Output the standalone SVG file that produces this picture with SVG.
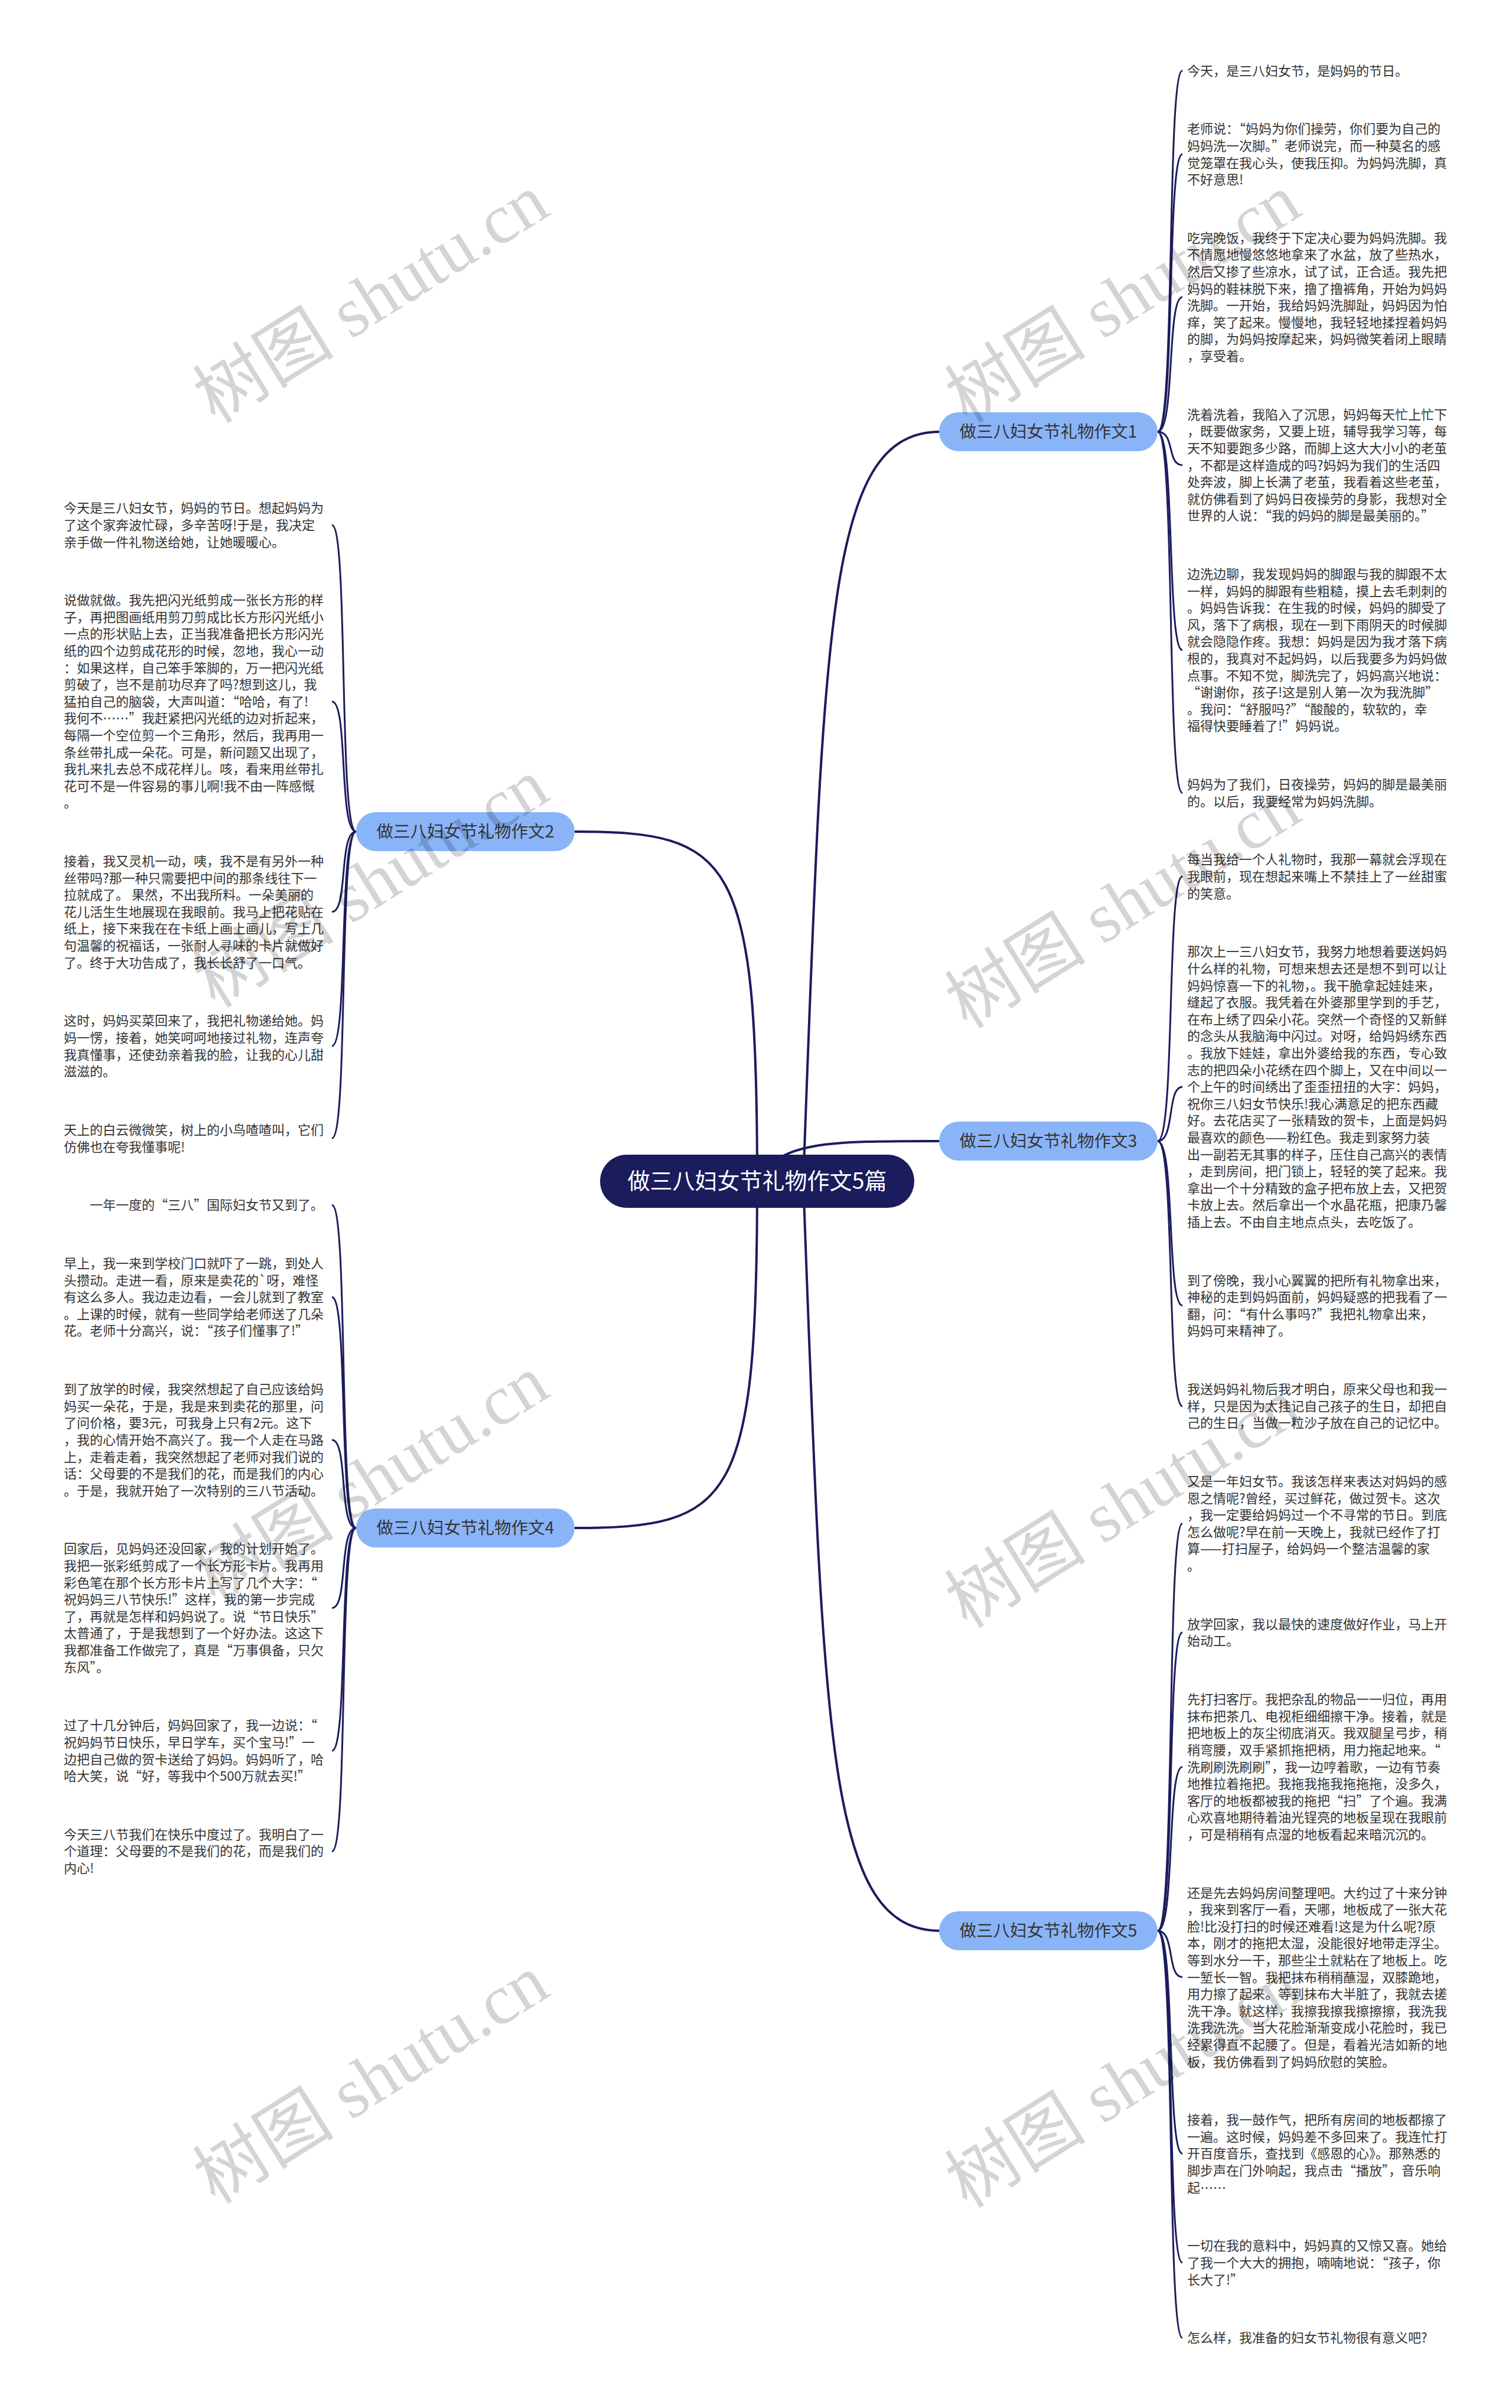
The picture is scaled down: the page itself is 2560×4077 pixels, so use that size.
<svg xmlns="http://www.w3.org/2000/svg" width="2560" height="4077" viewBox="0 0 2560 4077">
<style>
.t{font-family:"Noto Sans CJK SC","Noto Sans",sans-serif;font-size:22px;fill:#333}
.bl{font-family:"Noto Sans CJK SC","Noto Sans",sans-serif;font-size:28.5px;fill:#333;text-anchor:middle}
.rl{font-family:"Noto Sans CJK SC","Noto Sans",sans-serif;font-size:38px;fill:#fff;text-anchor:middle}
.bn{fill:#8ab4f8}
.rn{fill:#1b1c5c}
.m{fill:none;stroke:#1b1c5c;stroke-width:4}
.c{fill:none;stroke:#1b1c5c;stroke-width:3}
.wm{font-family:"Liberation Serif","Noto Sans CJK SC",serif;font-size:120px;fill:#000;fill-opacity:0.17;text-anchor:middle}
</style>
<rect width="2560" height="4077" fill="#fff"/>
<g id="connectors">
<path class="m" d="M1282,2000 C1282,1450 1240,1408 973,1408"/>
<path class="m" d="M1282,2000 C1282,2545 1240,2587 973,2587"/>
<path class="m" d="M1360,2000 C1395,1050 1400,731 1592,731"/>
<path class="m" d="M1282,2000 C1320,1932 1400,1932 1592,1932"/>
<path class="m" d="M1360,2000 C1395,2950 1400,3269 1592,3269"/>
<path class="c" d="M1960,731 C1990,731 1975,119.6 2002,119.6"/>
<path class="c" d="M1960,731 C1990,731 1975,261.2 2002,261.2"/>
<path class="c" d="M1960,731 C1990,731 1975,502.9 2002,502.9"/>
<path class="c" d="M1960,731 C1990,731 1975,787.5 2002,787.5"/>
<path class="c" d="M1960,731 C1990,731 1975,1100.7 2002,1100.7"/>
<path class="c" d="M1960,731 C1990,731 1975,1342.4 2002,1342.4"/>
<path class="c" d="M1960,1932 C1990,1932 1975,1484 2002,1484"/>
<path class="c" d="M1960,1932 C1990,1932 1975,1840.2 2002,1840.2"/>
<path class="c" d="M1960,1932 C1990,1932 1975,2210.5 2002,2210.5"/>
<path class="c" d="M1960,1932 C1990,1932 1975,2380.7 2002,2380.7"/>
<path class="c" d="M1960,3269 C1990,3269 1975,2579.5 2002,2579.5"/>
<path class="c" d="M1960,3269 C1990,3269 1975,2764 2002,2764"/>
<path class="c" d="M1960,3269 C1990,3269 1975,2991.5 2002,2991.5"/>
<path class="c" d="M1960,3269 C1990,3269 1975,3347.5 2002,3347.5"/>
<path class="c" d="M1960,3269 C1990,3269 1975,3646.4 2002,3646.4"/>
<path class="c" d="M1960,3269 C1990,3269 1975,3830.9 2002,3830.9"/>
<path class="c" d="M1960,3269 C1990,3269 1975,3958.3 2002,3958.3"/>
<path class="c" d="M603,1408 C573,1408 590,888.9 562,888.9"/>
<path class="c" d="M603,1408 C573,1408 590,1187.8 562,1187.8"/>
<path class="c" d="M603,1408 C573,1408 590,1543.8 562,1543.8"/>
<path class="c" d="M603,1408 C573,1408 590,1771.2 562,1771.2"/>
<path class="c" d="M603,1408 C573,1408 590,1927.2 562,1927.2"/>
<path class="c" d="M603,2587 C573,2587 590,2040.2 562,2040.2"/>
<path class="c" d="M603,2587 C573,2587 590,2196.2 562,2196.2"/>
<path class="c" d="M603,2587 C573,2587 590,2437.9 562,2437.9"/>
<path class="c" d="M603,2587 C573,2587 590,2722.5 562,2722.5"/>
<path class="c" d="M603,2587 C573,2587 590,2964.2 562,2964.2"/>
<path class="c" d="M603,2587 C573,2587 590,3134.4 562,3134.4"/>
</g>
<g id="root"><rect class="rn" x="1016" y="1955" width="532" height="90" rx="45"/><text class="rl" x="1282" y="2013">做三八妇女节礼物作文5篇</text></g>
<g id="b1"><rect class="bn" x="1590" y="698" width="370" height="66" rx="33"/><text class="bl" x="1775" y="741">做三八妇女节礼物作文1</text></g>
<g id="b2"><rect class="bn" x="603" y="1375" width="370" height="66" rx="33"/><text class="bl" x="788" y="1418">做三八妇女节礼物作文2</text></g>
<g id="b3"><rect class="bn" x="1590" y="1899" width="370" height="66" rx="33"/><text class="bl" x="1775" y="1942">做三八妇女节礼物作文3</text></g>
<g id="b4"><rect class="bn" x="603" y="2554" width="370" height="66" rx="33"/><text class="bl" x="788" y="2597">做三八妇女节礼物作文4</text></g>
<g id="b5"><rect class="bn" x="1590" y="3236" width="370" height="66" rx="33"/><text class="bl" x="1775" y="3279">做三八妇女节礼物作文5</text></g>

<g id="r1"><text class="t" x="2010" y="127.6">今天，是三八妇女节，是妈妈的节日。</text></g>
<g id="r2"><text class="t" x="2010" y="226.3"><tspan x="2010" dy="0">老师说：“妈妈为你们操劳，你们要为自己的</tspan><tspan x="2010" dy="28.6">妈妈洗一次脚。”老师说完，而一种莫名的感</tspan><tspan x="2010" dy="28.6">觉笼罩在我心头，使我压抑。为妈妈洗脚，真</tspan><tspan x="2010" dy="28.6">不好意思!</tspan></text></g>
<g id="r3"><text class="t" x="2010" y="410.8"><tspan x="2010" dy="0">吃完晚饭，我终于下定决心要为妈妈洗脚。我</tspan><tspan x="2010" dy="28.6">不情愿地慢悠悠地拿来了水盆，放了些热水，</tspan><tspan x="2010" dy="28.6">然后又掺了些凉水，试了试，正合适。我先把</tspan><tspan x="2010" dy="28.6">妈妈的鞋袜脱下来，撸了撸裤角，开始为妈妈</tspan><tspan x="2010" dy="28.6">洗脚。一开始，我给妈妈洗脚趾，妈妈因为怕</tspan><tspan x="2010" dy="28.6">痒，笑了起来。慢慢地，我轻轻地揉捏着妈妈</tspan><tspan x="2010" dy="28.6">的脚，为妈妈按摩起来，妈妈微笑着闭上眼睛</tspan><tspan x="2010" dy="28.6">，享受着。</tspan></text></g>
<g id="r4"><text class="t" x="2010" y="709.7"><tspan x="2010" dy="0">洗着洗着，我陷入了沉思，妈妈每天忙上忙下</tspan><tspan x="2010" dy="28.6">，既要做家务，又要上班，辅导我学习等，每</tspan><tspan x="2010" dy="28.6">天不知要跑多少路，而脚上这大大小小的老茧</tspan><tspan x="2010" dy="28.6">，不都是这样造成的吗?妈妈为我们的生活四</tspan><tspan x="2010" dy="28.6">处奔波，脚上长满了老茧，我看着这些老茧，</tspan><tspan x="2010" dy="28.6">就仿佛看到了妈妈日夜操劳的身影，我想对全</tspan><tspan x="2010" dy="28.6">世界的人说：“我的妈妈的脚是最美丽的。”</tspan></text></g>
<g id="r5"><text class="t" x="2010" y="980"><tspan x="2010" dy="0">边洗边聊，我发现妈妈的脚跟与我的脚跟不太</tspan><tspan x="2010" dy="28.6">一样，妈妈的脚跟有些粗糙，摸上去毛刺刺的</tspan><tspan x="2010" dy="28.6">。妈妈告诉我：在生我的时候，妈妈的脚受了</tspan><tspan x="2010" dy="28.6">风，落下了病根，现在一到下雨阴天的时候脚</tspan><tspan x="2010" dy="28.6">就会隐隐作疼。我想：妈妈是因为我才落下病</tspan><tspan x="2010" dy="28.6">根的，我真对不起妈妈，以后我要多为妈妈做</tspan><tspan x="2010" dy="28.6">点事。不知不觉，脚洗完了，妈妈高兴地说：</tspan><tspan x="2010" dy="28.6">“谢谢你，孩子!这是别人第一次为我洗脚”</tspan><tspan x="2010" dy="28.6">。我问：“舒服吗?”“酸酸的，软软的，幸</tspan><tspan x="2010" dy="28.6">福得快要睡着了!”妈妈说。</tspan></text></g>
<g id="r6"><text class="t" x="2010" y="1336.1"><tspan x="2010" dy="0">妈妈为了我们，日夜操劳，妈妈的脚是最美丽</tspan><tspan x="2010" dy="28.6">的。以后，我要经常为妈妈洗脚。</tspan></text></g>
<g id="r7"><text class="t" x="2010" y="1463.4"><tspan x="2010" dy="0">每当我给一个人礼物时，我那一幕就会浮现在</tspan><tspan x="2010" dy="28.6">我眼前，现在想起来嘴上不禁挂上了一丝甜蜜</tspan><tspan x="2010" dy="28.6">的笑意。</tspan></text></g>
<g id="r8"><text class="t" x="2010" y="1619.4"><tspan x="2010" dy="0">那次上一三八妇女节，我努力地想着要送妈妈</tspan><tspan x="2010" dy="28.6">什么样的礼物，可想来想去还是想不到可以让</tspan><tspan x="2010" dy="28.6">妈妈惊喜一下的礼物，。我干脆拿起娃娃来，</tspan><tspan x="2010" dy="28.6">缝起了衣服。我凭着在外婆那里学到的手艺，</tspan><tspan x="2010" dy="28.6">在布上绣了四朵小花。突然一个奇怪的又新鲜</tspan><tspan x="2010" dy="28.6">的念头从我脑海中闪过。对呀，给妈妈绣东西</tspan><tspan x="2010" dy="28.6">。我放下娃娃，拿出外婆给我的东西，专心致</tspan><tspan x="2010" dy="28.6">志的把四朵小花绣在四个脚上，又在中间以一</tspan><tspan x="2010" dy="28.6">个上午的时间绣出了歪歪扭扭的大字：妈妈，</tspan><tspan x="2010" dy="28.6">祝你三八妇女节快乐!我心满意足的把东西藏</tspan><tspan x="2010" dy="28.6">好。去花店买了一张精致的贺卡，上面是妈妈</tspan><tspan x="2010" dy="28.6">最喜欢的颜色——粉红色。我走到家努力装</tspan><tspan x="2010" dy="28.6">出一副若无其事的样子，压住自己高兴的表情</tspan><tspan x="2010" dy="28.6">，走到房间，把门锁上，轻轻的笑了起来。我</tspan><tspan x="2010" dy="28.6">拿出一个十分精致的盒子把布放上去，又把贺</tspan><tspan x="2010" dy="28.6">卡放上去。然后拿出一个水晶花瓶，把康乃馨</tspan><tspan x="2010" dy="28.6">插上去。不由自主地点点头，去吃饭了。</tspan></text></g>
<g id="r9"><text class="t" x="2010" y="2175.6"><tspan x="2010" dy="0">到了傍晚，我小心翼翼的把所有礼物拿出来，</tspan><tspan x="2010" dy="28.6">神秘的走到妈妈面前，妈妈疑惑的把我看了一</tspan><tspan x="2010" dy="28.6">翻，问：“有什么事吗?”我把礼物拿出来，</tspan><tspan x="2010" dy="28.6">妈妈可来精神了。</tspan></text></g>
<g id="r10"><text class="t" x="2010" y="2360.1"><tspan x="2010" dy="0">我送妈妈礼物后我才明白，原来父母也和我一</tspan><tspan x="2010" dy="28.6">样，只是因为太挂记自己孩子的生日，却把自</tspan><tspan x="2010" dy="28.6">己的生日，当做一粒沙子放在自己的记忆中。</tspan></text></g>
<g id="r11"><text class="t" x="2010" y="2516"><tspan x="2010" dy="0">又是一年妇女节。我该怎样来表达对妈妈的感</tspan><tspan x="2010" dy="28.6">恩之情呢?曾经，买过鲜花，做过贺卡。这次</tspan><tspan x="2010" dy="28.6">，我一定要给妈妈过一个不寻常的节日。到底</tspan><tspan x="2010" dy="28.6">怎么做呢?早在前一天晚上，我就已经作了打</tspan><tspan x="2010" dy="28.6">算——打扫屋子，给妈妈一个整洁温馨的家</tspan><tspan x="2010" dy="28.6">。</tspan></text></g>
<g id="r12"><text class="t" x="2010" y="2757.7"><tspan x="2010" dy="0">放学回家，我以最快的速度做好作业，马上开</tspan><tspan x="2010" dy="28.6">始动工。</tspan></text></g>
<g id="r13"><text class="t" x="2010" y="2885.1"><tspan x="2010" dy="0">先打扫客厅。我把杂乱的物品一一归位，再用</tspan><tspan x="2010" dy="28.6">抹布把茶几、电视柜细细擦干净。接着，就是</tspan><tspan x="2010" dy="28.6">把地板上的灰尘彻底消灭。我双腿呈弓步，稍</tspan><tspan x="2010" dy="28.6">稍弯腰，双手紧抓拖把柄，用力拖起地来。“</tspan><tspan x="2010" dy="28.6">洗刷刷洗刷刷”，我一边哼着歌，一边有节奏</tspan><tspan x="2010" dy="28.6">地推拉着拖把。我拖我拖我拖拖拖，没多久，</tspan><tspan x="2010" dy="28.6">客厅的地板都被我的拖把“扫”了个遍。我满</tspan><tspan x="2010" dy="28.6">心欢喜地期待着油光锃亮的地板呈现在我眼前</tspan><tspan x="2010" dy="28.6">，可是稍稍有点湿的地板看起来暗沉沉的。</tspan></text></g>
<g id="r14"><text class="t" x="2010" y="3212.5"><tspan x="2010" dy="0">还是先去妈妈房间整理吧。大约过了十来分钟</tspan><tspan x="2010" dy="28.6">，我来到客厅一看，天哪，地板成了一张大花</tspan><tspan x="2010" dy="28.6">脸!比没打扫的时候还难看!这是为什么呢?原</tspan><tspan x="2010" dy="28.6">本，刚才的拖把太湿，没能很好地带走浮尘。</tspan><tspan x="2010" dy="28.6">等到水分一干，那些尘土就粘在了地板上。吃</tspan><tspan x="2010" dy="28.6">一堑长一智。我把抹布稍稍蘸湿，双膝跪地，</tspan><tspan x="2010" dy="28.6">用力擦了起来。等到抹布大半脏了，我就去搓</tspan><tspan x="2010" dy="28.6">洗干净。就这样，我擦我擦我擦擦擦，我洗我</tspan><tspan x="2010" dy="28.6">洗我洗洗。当大花脸渐渐变成小花脸时，我已</tspan><tspan x="2010" dy="28.6">经累得直不起腰了。但是，看着光洁如新的地</tspan><tspan x="2010" dy="28.6">板，我仿佛看到了妈妈欣慰的笑脸。</tspan></text></g>
<g id="r15"><text class="t" x="2010" y="3597.2"><tspan x="2010" dy="0">接着，我一鼓作气，把所有房间的地板都擦了</tspan><tspan x="2010" dy="28.6">一遍。这时候，妈妈差不多回来了。我连忙打</tspan><tspan x="2010" dy="28.6">开百度音乐，查找到《感恩的心》。那熟悉的</tspan><tspan x="2010" dy="28.6">脚步声在门外响起，我点击“播放”，音乐响</tspan><tspan x="2010" dy="28.6">起……</tspan></text></g>
<g id="r16"><text class="t" x="2010" y="3810.3"><tspan x="2010" dy="0">一切在我的意料中，妈妈真的又惊又喜。她给</tspan><tspan x="2010" dy="28.6">了我一个大大的拥抱，喃喃地说：“孩子，你</tspan><tspan x="2010" dy="28.6">长大了!”</tspan></text></g>
<g id="r17"><text class="t" x="2010" y="3966.3">怎么样，我准备的妇女节礼物很有意义吧?</text></g>

<g id="l1"><text class="t" x="108" y="868.3"><tspan x="108" dy="0">今天是三八妇女节，妈妈的节日。想起妈妈为</tspan><tspan x="108" dy="28.6">了这个家奔波忙碌，多辛苦呀!于是，我决定</tspan><tspan x="108" dy="28.6">亲手做一件礼物送给她，让她暖暖心。</tspan></text></g>
<g id="l2"><text class="t" x="108" y="1024.2"><tspan x="108" dy="0">说做就做。我先把闪光纸剪成一张长方形的样</tspan><tspan x="108" dy="28.6">子，再把图画纸用剪刀剪成比长方形闪光纸小</tspan><tspan x="108" dy="28.6">一点的形状贴上去，正当我准备把长方形闪光</tspan><tspan x="108" dy="28.6">纸的四个边剪成花形的时候，忽地，我心一动</tspan><tspan x="108" dy="28.6">：如果这样，自己笨手笨脚的，万一把闪光纸</tspan><tspan x="108" dy="28.6">剪破了，岂不是前功尽弃了吗?想到这儿，我</tspan><tspan x="108" dy="28.6">猛拍自己的脑袋，大声叫道：“哈哈，有了!</tspan><tspan x="108" dy="28.6">我何不……”我赶紧把闪光纸的边对折起来，</tspan><tspan x="108" dy="28.6">每隔一个空位剪一个三角形，然后，我再用一</tspan><tspan x="108" dy="28.6">条丝带扎成一朵花。可是，新问题又出现了，</tspan><tspan x="108" dy="28.6">我扎来扎去总不成花样儿。咳，看来用丝带扎</tspan><tspan x="108" dy="28.6">花可不是一件容易的事儿啊!我不由一阵感慨</tspan><tspan x="108" dy="28.6">。</tspan></text></g>
<g id="l3"><text class="t" x="108" y="1466"><tspan x="108" dy="0">接着，我又灵机一动，咦，我不是有另外一种</tspan><tspan x="108" dy="28.6">丝带吗?那一种只需要把中间的那条线往下一</tspan><tspan x="108" dy="28.6">拉就成了。 果然，不出我所料。一朵美丽的</tspan><tspan x="108" dy="28.6">花儿活生生地展现在我眼前。我马上把花贴在</tspan><tspan x="108" dy="28.6">纸上，接下来我在在卡纸上画上画儿，写上几</tspan><tspan x="108" dy="28.6">句温馨的祝福话，一张耐人寻味的卡片就做好</tspan><tspan x="108" dy="28.6">了。终于大功告成了，我长长舒了一口气。</tspan></text></g>
<g id="l4"><text class="t" x="108" y="1736.3"><tspan x="108" dy="0">这时，妈妈买菜回来了，我把礼物递给她。妈</tspan><tspan x="108" dy="28.6">妈一愣，接着，她笑呵呵地接过礼物，连声夸</tspan><tspan x="108" dy="28.6">我真懂事，还使劲亲着我的脸，让我的心儿甜</tspan><tspan x="108" dy="28.6">滋滋的。</tspan></text></g>
<g id="l5"><text class="t" x="108" y="1920.9"><tspan x="108" dy="0">天上的白云微微笑，树上的小鸟喳喳叫，它们</tspan><tspan x="108" dy="28.6">仿佛也在夸我懂事呢!</tspan></text></g>
<g id="l6"><text class="t" x="152" y="2048.2">一年一度的“三八”国际妇女节又到了。</text></g>
<g id="l7"><text class="t" x="108" y="2147"><tspan x="108" dy="0">早上，我一来到学校门口就吓了一跳，到处人</tspan><tspan x="108" dy="28.6">头攒动。走进一看，原来是卖花的`呀，难怪</tspan><tspan x="108" dy="28.6">有这么多人。我边走边看，一会儿就到了教室</tspan><tspan x="108" dy="28.6">。上课的时候，就有一些同学给老师送了几朵</tspan><tspan x="108" dy="28.6">花。老师十分高兴，说：“孩子们懂事了!”</tspan></text></g>
<g id="l8"><text class="t" x="108" y="2360.1"><tspan x="108" dy="0">到了放学的时候，我突然想起了自己应该给妈</tspan><tspan x="108" dy="28.6">妈买一朵花，于是，我是来到卖花的那里，问</tspan><tspan x="108" dy="28.6">了问价格，要3元，可我身上只有2元。这下</tspan><tspan x="108" dy="28.6">，我的心情开始不高兴了。我一个人走在马路</tspan><tspan x="108" dy="28.6">上，走着走着，我突然想起了老师对我们说的</tspan><tspan x="108" dy="28.6">话：父母要的不是我们的花，而是我们的内心</tspan><tspan x="108" dy="28.6">。于是，我就开始了一次特别的三八节活动。</tspan></text></g>
<g id="l9"><text class="t" x="108" y="2630.4"><tspan x="108" dy="0">回家后，见妈妈还没回家，我的计划开始了。</tspan><tspan x="108" dy="28.6">我把一张彩纸剪成了一个长方形卡片。我再用</tspan><tspan x="108" dy="28.6">彩色笔在那个长方形卡片上写了几个大字：“</tspan><tspan x="108" dy="28.6">祝妈妈三八节快乐!”这样，我的第一步完成</tspan><tspan x="108" dy="28.6">了，再就是怎样和妈妈说了。说“节日快乐”</tspan><tspan x="108" dy="28.6">太普通了，于是我想到了一个好办法。这这下</tspan><tspan x="108" dy="28.6">我都准备工作做完了，真是“万事俱备，只欠</tspan><tspan x="108" dy="28.6">东风”。</tspan></text></g>
<g id="l10"><text class="t" x="108" y="2929.3"><tspan x="108" dy="0">过了十几分钟后，妈妈回家了，我一边说：“</tspan><tspan x="108" dy="28.6">祝妈妈节日快乐，早日学车，买个宝马!”一</tspan><tspan x="108" dy="28.6">边把自己做的贺卡送给了妈妈。妈妈听了，哈</tspan><tspan x="108" dy="28.6">哈大笑，说“好，等我中个500万就去买!”</tspan></text></g>
<g id="l11"><text class="t" x="108" y="3113.8"><tspan x="108" dy="0">今天三八节我们在快乐中度过了。我明白了一</tspan><tspan x="108" dy="28.6">个道理：父母要的不是我们的花，而是我们的</tspan><tspan x="108" dy="28.6">内心!</tspan></text></g>

<g id="watermarks">
<text class="wm" transform="translate(650,540) rotate(-32)">树图 shutu.cn</text>
<text class="wm" transform="translate(1923,540) rotate(-32)">树图 shutu.cn</text>
<text class="wm" transform="translate(650,1530) rotate(-32)">树图 shutu.cn</text>
<text class="wm" transform="translate(1923,1565) rotate(-32)">树图 shutu.cn</text>
<text class="wm" transform="translate(650,2540) rotate(-32)">树图 shutu.cn</text>
<text class="wm" transform="translate(1923,2580) rotate(-32)">树图 shutu.cn</text>
<text class="wm" transform="translate(650,3555) rotate(-32)">树图 shutu.cn</text>
<text class="wm" transform="translate(1923,3562) rotate(-32)">树图 shutu.cn</text>
</g>
</svg>
